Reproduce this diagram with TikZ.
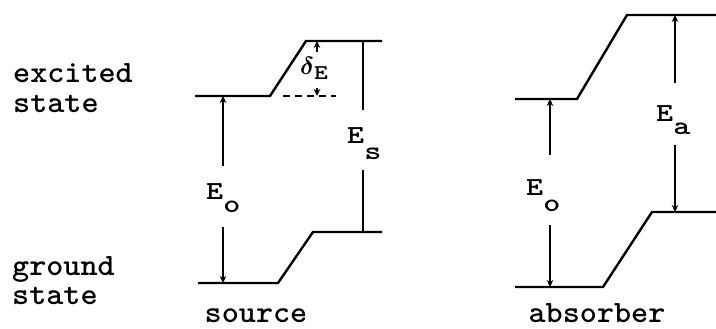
\documentclass[tikz,border=0pt]{standalone}
\usepackage{fontspec}
\usetikzlibrary{arrows.meta}
\newcommand\twx[1]{\scalebox{1.25}[1]{#1}}
\newcommand\twy[1]{\scalebox{1.05}[1]{#1}}
\begin{document}
\begin{tikzpicture}[x=1pt,y=-1pt,
  level/.style={line width=2.4pt},
  thin/.style={line width=1.8pt},
  arr/.style={line width=1.8pt,-{Stealth[length=7pt,width=6.5pt]}},
  lbl/.style={font=\fontsize{26}{26}\selectfont\ttfamily\bfseries, inner sep=0pt, anchor=base west},
  word/.style={font=\fontsize{31}{31}\selectfont\ttfamily\bfseries, inner sep=0pt, anchor=base west}]
\useasboundingbox (0,0) rectangle (716,329);
% side labels
\node[word] (ex1) at (13,83) {\twy{excited}};
\node[word] (ex2) at (13,113) {\twy{state}};
\node[word] (gr1) at (12,275) {\twy{ground}};
\node[word] (gr2) at (12,304) {\twy{state}};
% source levels
\coordinate (s1) at (195,96);  \coordinate (s2) at (270,96);
\coordinate (s3) at (306,41);  \coordinate (s4) at (382,41);
\coordinate (g1) at (198,283); \coordinate (g2) at (278,283);
\coordinate (g3) at (313,232); \coordinate (g4) at (382,232);
\draw[level] (s1) -- (s2) -- (s3) -- (s4);
\draw[level] (g1) -- (g2) -- (g3) -- (g4);
\coordinate (d1) at (283,96); \coordinate (d2) at (336,96);
\draw[thin, dash pattern=on 7pt off 5pt] (d1) -- (d2);
% delta E arrows
\coordinate (dt) at (317,41); \coordinate (dtf) at (317,52);
\coordinate (db) at (317,96); \coordinate (dbf) at (317,88);
\draw[arr] (dtf) -- (dt);
\draw[arr] (dbf) -- (db);
\node[lbl] (dE) at (300,75) {{\fontsize{30}{30}\selectfont\boldmath$\delta$}\raisebox{-5pt}{\fontsize{21}{21}\selectfont\twx{E}}};
% E0 source
\coordinate (e0t) at (223,96);  \coordinate (e0tf) at (223,166);
\coordinate (e0b) at (223,283); \coordinate (e0bf) at (223,227);
\draw[arr] (e0tf) -- (e0t);
\draw[arr] (e0bf) -- (e0b);
\node[lbl] (E0s) at (206,200) {\twx{E}\raisebox{-13pt}{\twx{o}}};
% Es
\coordinate (est) at (363,41);  \coordinate (estf) at (363,110);
\coordinate (esb) at (363,232); \coordinate (esbf) at (363,170);
\draw[thin] (est) -- (estf);
\draw[thin] (esbf) -- (esb);
\node[lbl] (Es) at (347,143) {\twx{E}\raisebox{-17pt}{\twx{s}}};
\node[word, anchor=base] (src) at (256,322) {\twy{source}};
% absorber levels
\coordinate (a1) at (515,99);  \coordinate (a2) at (577,99);
\coordinate (a3) at (627,15);  \coordinate (a4) at (716,15);
\coordinate (b1) at (515,287); \coordinate (b2) at (603,287);
\coordinate (b3) at (652,212); \coordinate (b4) at (716,212);
\draw[level] (a1) -- (a2) -- (a3) -- (a4);
\draw[level] (b1) -- (b2) -- (b3) -- (b4);
% E0 absorber
\coordinate (f0t) at (550,99);  \coordinate (f0tf) at (550,155);
\coordinate (f0b) at (550,287); \coordinate (f0bf) at (550,225);
\draw[arr] (f0tf) -- (f0t);
\draw[arr] (f0bf) -- (f0b);
\node[lbl] (E0a) at (526,195) {\twx{E}\raisebox{-17pt}{\twx{o}}};
% Ea
\coordinate (eat) at (675,15);  \coordinate (eatf) at (675,83);
\coordinate (eab) at (675,212); \coordinate (eabf) at (675,145);
\draw[arr] (eatf) -- (eat);
\draw[arr] (eabf) -- (eab);
\node[lbl] (Ea) at (656,122) {\twx{E}\raisebox{-13pt}{\twx{a}}};
\node[word, anchor=base] (abs) at (597,322) {\twy{absorber}};
\end{tikzpicture}
\end{document}
